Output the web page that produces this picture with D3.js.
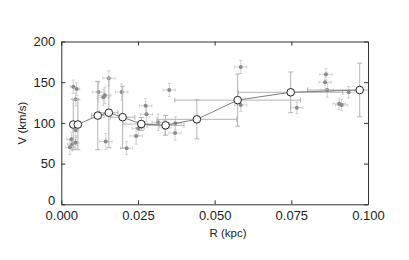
<!DOCTYPE html>
<html><head><meta charset="utf-8">
<script src="https://cdn.jsdelivr.net/npm/d3@7"></script>
<style>body{margin:0;background:#fff}svg{display:block}text{font-family:"Liberation Sans",Arial,sans-serif}</style>
</head><body><svg id="c" width="409" height="260"></svg>
<script>
// individual measurements
const ptR  = [0.0039,0.0050,0.0047,0.0047,0.0033,0.0036,0.0028,0.0047,0.0121,0.0137,0.0142,0.0155,0.0145,0.0197,0.0213,0.0275,0.0278,0.0251,0.0244,0.0316,0.0338,0.0371,0.0372,0.0352,0.0585,0.0585,0.0768,0.0863,0.0860,0.0867,0.0906,0.0914,0.0937];
const ptV  = [144.5,141.6,129,91,80,73.7,70,76,138,131.5,134,155,77,138,69,121,110.6,93,84,100.7,94,87.6,99.5,140.4,168.7,122,118.7,159.7,150,140.4,123.5,122,137.6];
const ptRe = [0.001,0.001,0.001,0.001,0.0015,0.0015,0.0015,0.001,0.002,0.002,0.002,0.002,0.002,0.002,0.002,0.002,0.002,0.002,0.002,0.002,0.002,0.002,0.002,0.002,0.002,0.002,0.002,0.002,0.002,0.002,0.002,0.002,0.002];
const ptVe = [8,8,8,9,8,8,9,8,12,10,10,9,10,10,8,9,9,9,10,10,9,9,8,8,8,8,7,7,9,9,7,7,7];
// binned means
const binR  = [0.0039,0.0054,0.0119,0.0155,0.0200,0.0261,0.0340,0.0442,0.0575,0.0748,0.0973];
const binV  = [98,98,109,112.5,107,98.6,97,104.4,128,137.6,140.4];
const binRe = [0.0008,0.0008,0.002,0.003,0.004,0.006,0.006,0.013,0.0205,0.017,0.017];
const binVe = [31,31,42,43,38,8,12,24,32,25,33];
const xTicks = [0,0.025,0.05,0.075,0.1];
const yTicks = [0,50,100,150,200];

const svg = d3.select("#c");
const m = {l:61.3,r:368,t:41.5,b:204.3};
const x = d3.scaleLinear().domain([0,0.1]).range([m.l,m.r]);
const y = d3.scaleLinear().domain([0,200]).range([m.b,m.t]);

svg.append("defs").append("clipPath").attr("id","cp").append("rect")
  .attr("x",m.l).attr("y",m.t).attr("width",m.r-m.l).attr("height",m.b-m.t);
const g = svg.append("g").attr("clip-path","url(#cp)");

const pts = ptR.map((r,i)=>({r,v:ptV[i],re:ptRe[i],ve:ptVe[i]}));
const bins = binR.map((r,i)=>({r,v:binV[i],re:binRe[i],ve:binVe[i]}));

function errbars(sel, data, col, cap, w){
  const e = sel.append("g").attr("stroke",col).attr("stroke-width",w).attr("fill","none");
  data.forEach(d=>{
    const cx=x(d.r), cy=y(d.v);
    const x1=x(d.r-d.re), x2=x(d.r+d.re), y1=y(d.v+d.ve), y2=y(d.v-d.ve);
    e.append("line").attr("x1",x1).attr("x2",x2).attr("y1",cy).attr("y2",cy);
    e.append("line").attr("x1",cx).attr("x2",cx).attr("y1",y1).attr("y2",y2);
    e.append("line").attr("x1",x1).attr("x2",x1).attr("y1",cy-cap).attr("y2",cy+cap);
    e.append("line").attr("x1",x2).attr("x2",x2).attr("y1",cy-cap).attr("y2",cy+cap);
    e.append("line").attr("x1",cx-cap).attr("x2",cx+cap).attr("y1",y1).attr("y2",y1);
    e.append("line").attr("x1",cx-cap).attr("x2",cx+cap).attr("y1",y2).attr("y2",y2);
  });
}
errbars(g, pts, "#c8c8c8", 1.5, 0.8);
g.append("g").selectAll("circle").data(pts).join("circle")
  .attr("cx",d=>x(d.r)).attr("cy",d=>y(d.v)).attr("r",2).attr("fill","#8a8a8a");
errbars(g, bins, "#b4b4b4", 2.5, 1);
g.append("path").datum(bins).attr("fill","none").attr("stroke","#707070").attr("stroke-width",0.9)
  .attr("d",d3.line().x(d=>x(d.r)).y(d=>y(d.v)));
g.append("g").selectAll("circle").data(bins).join("circle")
  .attr("cx",d=>x(d.r)).attr("cy",d=>y(d.v)).attr("r",3.8)
  .attr("fill","#fff").attr("stroke","#222").attr("stroke-width",1);

// frame & axes
const ax = svg.append("g");
ax.append("g").attr("transform",`translate(0,${m.b})`)
  .call(d3.axisBottom(x).tickValues(xTicks).tickFormat(d3.format(".3f")).tickSizeInner(-4).tickSizeOuter(0).tickPadding(6));
ax.append("g").attr("transform",`translate(0,${m.t})`)
  .call(d3.axisTop(x).tickValues(xTicks).tickFormat("").tickSizeInner(-4).tickSizeOuter(0));
const yl = ax.append("g").attr("transform",`translate(${m.l},0)`)
  .call(d3.axisLeft(y).tickValues(yTicks).tickSizeInner(-4).tickSizeOuter(0).tickPadding(6));
yl.selectAll(".tick").filter(d=>d===0).select("text").attr("dy","0.05em");
ax.append("g").attr("transform",`translate(${m.r},0)`)
  .call(d3.axisRight(y).tickValues(yTicks).tickFormat("").tickSizeInner(-4).tickSizeOuter(0));
ax.selectAll(".domain").attr("stroke","#333");
ax.selectAll(".tick line").attr("stroke","#333");
ax.selectAll("text").attr("font-size",13).attr("fill","#222").attr("font-family","Liberation Sans, Arial, sans-serif");
svg.append("text").attr("x",228).attr("y",237).attr("text-anchor","middle")
  .attr("font-size",11.5).attr("fill","#222").text("R (kpc)");
svg.append("text").attr("transform","translate(26,123) rotate(-90)").attr("text-anchor","middle")
  .attr("font-size",11.5).attr("fill","#222").text("V (km/s)");
</script></body></html>
